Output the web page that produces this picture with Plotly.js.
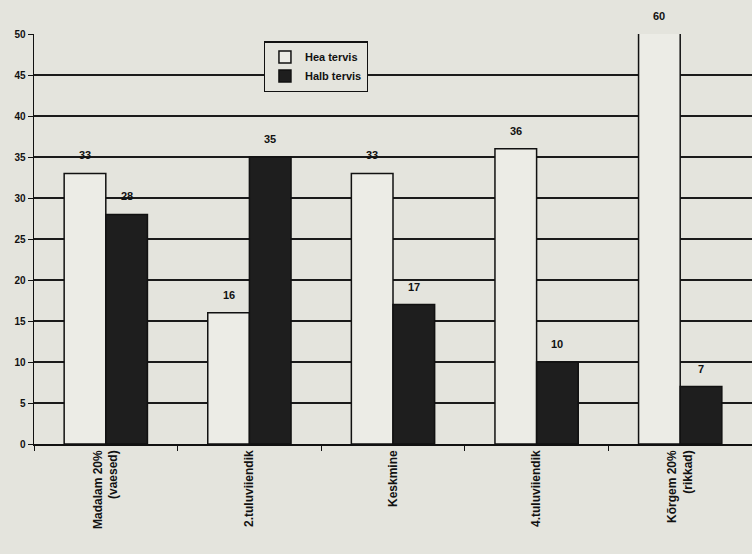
<!DOCTYPE html>
<html>
<head>
<meta charset="utf-8">
<script src="https://cdn.plot.ly/plotly-3.0.1.min.js"></script>
<style>html,body{margin:0;padding:0;background:#e4e4dd;}</style>
</head>
<body>
<div id="chart" style="width:752px;height:554px;"></div>
<script>
const categories = ["Madalam 20%<br>(vaesed)", "2.tuluviiendik", "Keskmine", "4.tuluviiendik", "Kõrgem 20%<br>(rikkad)"];
const heaTervis = [33, 16, 33, 36, 60];
const halbTervis = [28, 35, 17, 10, 7];
const seriesNames = ["Hea tervis", "Halb tervis"];
const yTicks = [0, 5, 10, 15, 20, 25, 30, 35, 40, 45, 50];

const yMax = 50;
const bargap = 0.42;
const half = (1 - bargap) / 4;

const annotations = [];
[heaTervis, halbTervis].forEach((vals, s) => {
  vals.forEach((v, i) => {
    annotations.push({
      x: i + (s === 0 ? -half : half), xref: 'x',
      y: Math.min(v, yMax), yref: 'y',
      text: String(v), showarrow: false,
      yanchor: 'bottom', yshift: 10,
      font: {family: 'Arial, "Liberation Sans", sans-serif', size: 11, color: '#111', weight: 'bold'}
    });
  });
});

const traces = [
  {type: 'bar', name: seriesNames[0], x: categories, y: heaTervis,
   marker: {color: '#ececE6', line: {color: '#111', width: 1.5}}},
  {type: 'bar', name: seriesNames[1], x: categories, y: halbTervis,
   marker: {color: '#1e1e1e', line: {color: '#111', width: 1.5}}}
];

const layout = {
  width: 752, height: 554,
  margin: {l: 34, r: 0, t: 34, b: 110, pad: 0},
  paper_bgcolor: '#e4e4dd', plot_bgcolor: '#e4e4dd',
  font: {family: 'Arial, "Liberation Sans", sans-serif', size: 10, color: '#111', weight: 'bold'},
  barmode: 'group', bargap: bargap, bargroupgap: 0,
  showlegend: true,
  legend: {x: 0.32, y: 0.982, xanchor: 'left', yanchor: 'top',
           bgcolor: '#e4e4dd', bordercolor: '#111', borderwidth: 1.2,
           font: {size: 11, weight: 'bold'}, tracegroupgap: 0, itemwidth: 30},
  xaxis: {type: 'category', showline: true, linecolor: '#111', linewidth: 1.5,
          ticks: 'outside', tickson: 'boundaries', ticklen: 5, tickcolor: '#111',
          tickangle: -90, tickfont: {size: 12, weight: 'bold'}, showgrid: false,
          range: [-0.5, 4.5]},
  yaxis: {range: [0, yMax], tickvals: yTicks, showline: true, linecolor: '#111', linewidth: 1.5,
          ticks: 'outside', ticklen: 5, tickcolor: '#111', showgrid: true,
          gridcolor: '#1a1a1a', gridwidth: 1.8, zeroline: false,
          tickfont: {size: 10, weight: 'bold'}},
  annotations: annotations
};

Plotly.newPlot('chart', traces, layout, {displayModeBar: false, staticPlot: true});
</script>
</body>
</html>
